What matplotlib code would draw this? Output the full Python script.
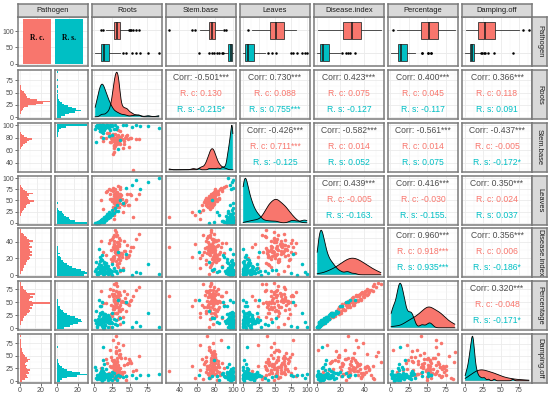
import numpy as np
import matplotlib.pyplot as plt
from matplotlib.ticker import MaxNLocator

plt.rcParams['font.family'] = ['Liberation Sans', 'DejaVu Sans']

RC = '#F8766D'
RS = '#00BFC4'

strip_names = ['Pathogen', 'Roots', 'Stem.base', 'Leaves', 'Disease.index', 'Percentage', 'Damping.off']
group_labels = ['R. c.', 'R. s.']
group_counts = [136, 136]
count_ticks = [0, 50, 100]
var_ticks = [[0, 25, 50, 75], [40, 60, 80, 100], [0, 25, 50, 75, 100],
             [0, 20, 40], [0, 25, 50, 75], [0, 25, 50, 75]]

# ---- observations, R. c. ----
roots_rc = [31.2, 24.5, 35.1, 28.3, 42.0, 30.4, 33.6, 26.1, 38.2, 29.7,
            32.5, 20.3, 34.2, 30.9, 27.4, 47.1, 31.8, 35.6, 25.2, 28.9,
            33.1, 40.3, 29.2, 16.4, 32.0, 36.3, 30.1, 44.2, 27.8, 34.7,
            31.5, 22.6, 35.4, 28.1, 50.2, 33.9, 26.7, 30.6, 38.8, 32.3,
            9.3, 29.5, 35.9, 31.0, 45.3, 27.2, 34.1, 24.0, 32.8, 41.4,
            30.8, 54.1, 28.6, 35.3, 23.4, 33.4, 39.5, 31.6, 27.0, 36.0,
            25.8, 32.1, 43.5, 29.9, 18.2, 34.5, 30.3, 58.2, 26.4, 35.0,
            31.9, 48.4, 28.0, 21.5, 33.3, 46.2, 27.6, 63.0, 12.6, 52.3]
stem_rc = [76.2, 81.5, 72.8, 78.9, 69.4, 77.3, 84.1, 74.6, 79.8, 71.2,
           75.5, 88.3, 73.9, 80.2, 66.1, 77.9, 82.6, 70.3, 76.8, 85.4,
           78.1, 63.5, 74.2, 79.4, 72.1, 90.6, 75.9, 81.9, 68.7, 77.0,
           73.4, 83.2, 76.5, 57.2, 79.1, 74.9, 86.7, 71.8, 78.4, 75.2,
           80.8, 67.3, 77.6, 73.1, 82.1, 76.0, 70.8, 79.6, 92.4, 74.4,
           78.6, 28.5, 75.7, 81.1, 72.4, 77.4, 84.8, 69.9, 76.3, 80.5,
           54.3, 74.0, 79.2, 73.7, 87.5, 76.7, 71.5, 78.0, 82.9, 75.0,
           77.7, 65.2, 80.0, 73.0, 76.1, 83.7, 62.8, 78.3, 74.7, 79.9]
leaves_rc = [58.8, 53.8, 57.7, 44.9, 43.6, 67.5, 55.7, 36.4, 62.2, 45.3,
             40.8, 75.0, 51.4, 67.8, 29.7, 39.4, 69.4, 55.0, 48.7, 74.6,
             58.7, 23.8, 36.8, 69.6, 51.7, 80.4, 48.4, 50.4, 51.6, 36.0,
             59.6, 65.3, 44.3, 18.3, 64.2, 43.9, 78.6, 34.2, 41.1, 65.3,
             51.7, 47.5, 63.9, 43.2, 47.7, 53.5, 48.7, 72.9, 83.1, 40.1,
             56.4, 13.5, 35.1, 65.2, 54.1, 48.6, 53.7, 39.4, 65.0, 76.3,
             24.0, 54.5, 47.3, 35.1, 70.8, 60.6, 37.8, 52.5, 71.9, 53.0,
             43.1, 39.3, 59.5, 54.0, 45.7, 64.1, 8.4, 64.0, 31.6, 61.4]
di_rc = [28.4, 15.2, 36.8, 22.5, 41.3, 31.0, 19.7, 45.6, 26.3, 33.9,
         12.4, 38.5, 24.1, 29.7, 48.2, 21.3, 34.6, 17.8, 43.0, 27.2,
         35.5, 8.6, 30.4, 23.8, 39.9, 26.9, 51.7, 20.6, 32.7, 14.1,
         25.5, 42.4, 18.9, 37.6, 29.1, 10.3, 33.2, 46.9, 22.0, 30.8,
         40.5, 27.8, 5.4, 35.0, 24.7, 31.9, 44.3, 19.1, 38.0, 28.9,
         16.6, 34.1, 53.8, 23.1, 30.1, 39.2, 25.9, 13.3, 36.2, 42.0,
         21.7, 47.5, 29.4, 32.3, 11.5, 37.1, 26.4, 43.8, 18.2, 34.9,
         31.4, 24.4, 40.9, 1.2, 28.1, 36.5, 20.1, 49.6, 27.5, 33.5]
pct_rc = [52.0, 23.6, 69.0, 37.9, 73.0, 45.1, 41.5, 74.7, 50.8, 53.5,
          30.2, 61.7, 35.4, 53.0, 84.7, 46.0, 52.6, 33.6, 66.7, 51.2,
          62.0, 22.3, 48.1, 48.9, 60.8, 44.7, 87.1, 33.9, 63.7, 21.9,
          41.5, 75.7, 40.3, 55.3, 53.1, 17.0, 61.5, 71.7, 37.1, 59.7,
          71.8, 42.1, 8.4, 62.3, 49.3, 53.4, 69.7, 27.6, 69.9, 50.8,
          28.7, 62.9, 85.4, 35.8, 44.7, 67.8, 53.1, 28.6, 57.1, 64.1,
          43.6, 81.6, 57.6, 51.1, 20.8, 56.5, 40.9, 74.9, 37.2, 65.1,
          48.7, 44.8, 66.4, 2.9, 54.6, 65.6, 30.2, 78.9, 49.6, 54.9]
damp_rc = [22.3, 41.5, 8.6, 33.0, 17.2, 55.4, 26.8, 12.1, 45.9, 29.4,
           38.2, 15.5, 62.0, 24.1, 3.7, 35.6, 19.8, 48.3, 27.7, 11.2,
           31.5, 70.4, 20.9, 43.7, 14.6, 26.0, 57.1, 9.3, 36.8, 23.5,
           16.4, 28.9, 51.2, 6.4, 39.7, 21.6, 80.3, 30.6, 13.5, 44.6,
           25.1, 34.3, 18.7, 66.5, 1.5, 42.2, 24.7, 47.8, 10.4, 32.1,
           59.0, 20.2, 37.5, 14.0, 27.1, 74.8, 17.9, 40.3, 23.0, 52.5,
           29.9, 5.2, 46.1, 25.4, 35.0, 16.8, 88.6, 21.1, 38.9, 12.9,
           19.4, 43.0, 27.3, 60.8, 15.1, 33.7, 22.6, 49.5, 7.8, 36.1]

# ---- observations, R. s. ----
roots_rs = [12.2, 5.1, 17.3, 9.6, 24.3, 14.8, 3.0, 20.3, 10.8, 7.3,
            15.6, 8.7, 30.4, 12.6, 6.5, 19.0, 11.3, 41.0, 4.2, 13.7,
            9.9, 22.6, 16.0, 7.7, 12.9, 1.8, 18.6, 10.2, 27.5, 14.0,
            6.8, 13.3, 53.6, 11.5, 8.2, 20.7, 15.2, 5.5, 25.2, 9.0,
            17.7, 12.0, 3.6, 34.0, 10.5, 16.5, 7.0, 21.8, 13.0, 64.0,
            8.4, 19.9, 12.4, 4.7, 14.4, 28.8, 9.3, 6.2, 18.1, 11.8,
            23.4, 7.9, 16.9, 91.0, 11.0, 5.9, 21.1, 2.5, 19.4, 12.8,
            36.3, 13.9, 8.1, 59.0, 10.1, 24.8, 1.1, 76.0, 32.1, 44.0]
stem_rs = [98.2, 96.5, 99.6, 93.8, 100.0, 97.1, 99.9, 95.4, 98.8, 91.2,
           97.9, 99.3, 94.6, 100.0, 96.0, 98.5, 88.7, 99.8, 97.4, 95.1,
           99.1, 92.5, 98.0, 100.0, 96.8, 73.4, 99.5, 97.6, 94.2, 98.9,
           100.0, 95.8, 97.3, 99.7, 90.1, 98.4, 96.3, 99.2, 84.3, 97.0,
           99.4, 94.9, 98.6, 62.1, 99.9, 96.6, 97.8, 100.0, 93.1, 98.1,
           95.6, 99.0, 79.2, 98.3, 97.5, 100.0, 94.0, 99.6, 96.9, 87.5,
           98.7, 96.2, 99.8, 95.0, 100.0, 97.2, 82.1, 98.0, 99.3, 94.5,
           76.4, 99.5, 97.7, 100.0, 95.3, 98.9, 93.5, 99.1, 96.4, 100.0]
leaves_rs = [7.5, 1.2, 14.6, 2.8, 22.4, 6.9, 0.5, 13.8, 9.2, 1.9,
             12.3, 3.5, 27.1, 5.2, 0.8, 17.5, 4.1, 45.3, 0.6, 10.4,
             4.7, 15.9, 8.3, 2.2, 11.6, 0.4, 10.1, 1.5, 21.8, 13.1,
             1.0, 3.9, 84.0, 7.8, 2.6, 19.2, 5.8, 0.7, 16.4, 6.1,
             9.7, 2.1, 0.3, 25.5, 6.6, 15.0, 1.4, 12.9, 8.8, 74.5,
             3.3, 11.2, 1.8, 0.9, 9.5, 33.8, 5.5, 0.2, 20.6, 4.4,
             18.3, 1.7, 7.1, 99.5, 3.0, 0.5, 23.7, 0.1, 14.2, 6.3,
             52.0, 2.4, 1.1, 96.0, 5.0, 28.5, 0.2, 92.0, 38.7, 78.0]
di_rs = [4.2, 9.8, 2.1, 6.5, 13.6, 3.4, 1.5, 7.9, 18.3, 5.1,
         2.8, 11.4, 5.6, 0.9, 8.3, 3.9, 24.5, 6.2, 2.4, 14.7,
         7.1, 3.1, 10.5, 4.6, 1.2, 16.2, 5.9, 2.6, 9.1, 3.7,
         12.8, 6.8, 0.5, 4.9, 21.4, 3.2, 8.7, 2.0, 5.3, 11.9,
         3.5, 7.5, 1.8, 27.6, 4.4, 10.1, 2.9, 6.0, 15.3, 3.0,
         5.7, 1.0, 8.0, 3.8, 12.2, 4.7, 19.6, 2.3, 6.9, 9.5,
         2.7, 4.0, 14.0, 1.6, 5.4, 31.8, 3.6, 7.3, 10.8, 4.5,
         6.4, 2.2, 17.1, 3.3, 8.9, 0.7, 5.0, 13.1, 2.5, 25.9]
pct_rs = [12.9, 17.2, 11.5, 13.7, 29.4, 5.6, 4.5, 22.0, 31.2, 13.4,
          5.6, 26.8, 15.2, 1.5, 15.7, 13.4, 51.4, 11.2, 13.0, 27.3,
          18.7, 10.1, 17.3, 16.6, 1.0, 32.7, 17.7, 5.3, 17.0, 16.1,
          23.1, 11.2, 1.8, 14.1, 43.3, 10.3, 21.4, 9.3, 9.7, 28.6,
          13.8, 18.4, 2.0, 54.5, 10.3, 17.7, 11.8, 17.9, 27.2, 5.0,
          11.4, 1.7, 20.2, 12.3, 28.1, 8.8, 42.3, 8.8, 14.4, 21.7,
          11.5, 8.6, 24.1, 2.6, 16.9, 55.5, 11.9, 11.0, 24.8, 12.4,
          19.6, 4.6, 30.2, 12.4, 14.7, 3.2, 16.3, 28.6, 6.1, 50.7]
damp_rs = [10.2, 6.1, 13.5, 8.4, 17.9, 11.3, 3.2, 9.0, 14.8, 7.5,
           12.1, 5.3, 9.7, 20.6, 11.0, 1.4, 15.9, 8.8, 12.7, 4.6,
           10.9, 7.1, 24.3, 9.4, 13.0, 6.6, 11.6, 0.5, 16.8, 10.5,
           8.1, 32.7, 12.4, 5.9, 10.0, 14.2, 7.8, 11.9, 2.7, 19.2,
           9.2, 13.8, 6.3, 11.1, 26.4, 8.6, 10.7, 4.0, 15.4, 12.3,
           7.3, 10.4, 40.7, 9.9, 12.9, 5.6, 17.3, 11.5, 8.9, 13.3,
           11.8, 3.8, 10.1, 14.5, 7.0, 12.0, 9.5, 22.1, 6.8, 66.6,
           10.6, 8.2, 15.1, 5.0, 11.4, 9.1, 28.0, 12.6, 2.0, 10.3]

# ---- histogram counts (30 bins over each variable's range) ----
hist_roots_rc = [0, 0, 1, 1, 2, 3, 4, 8, 15, 22, 28, 16, 10, 7, 6, 5, 4, 2, 1, 1, 1, 0, 0, 0, 0, 0, 0, 0, 0, 0]
hist_roots_rs = [4, 8, 12, 17, 23, 18, 14, 11, 7, 5, 3, 2, 1, 1, 1, 0, 1, 1, 0, 1, 1, 0, 0, 0, 1, 0, 0, 0, 0, 1]
hist_stem_rc = [1, 0, 0, 0, 0, 0, 0, 0, 0, 0, 1, 1, 1, 2, 3, 5, 8, 12, 17, 22, 28, 18, 10, 5, 3, 1, 1, 0, 0, 0]
hist_stem_rs = [0, 0, 0, 0, 0, 0, 0, 0, 0, 0, 0, 0, 0, 1, 1, 1, 0, 1, 2, 1, 2, 2, 3, 3, 4, 5, 6, 10, 22, 70]
hist_leaves_rc = [0, 0, 1, 1, 1, 2, 2, 3, 4, 5, 7, 7, 9, 12, 17, 11, 10, 9, 11, 16, 9, 6, 4, 3, 2, 0, 0, 0, 0, 0]
hist_leaves_rs = [35, 22, 16, 14, 11, 9, 8, 6, 3, 2, 1, 1, 1, 2, 1, 1, 0, 0, 0, 0, 0, 1, 1, 1, 0, 0, 1, 1, 1, 1]
hist_di_rc = [0, 1, 1, 2, 2, 3, 3, 4, 4, 5, 6, 7, 6, 8, 7, 8, 7, 6, 8, 6, 7, 6, 9, 6, 5, 4, 3, 2, 1, 1]
hist_di_rs = [18, 20, 19, 16, 13, 10, 8, 7, 5, 4, 3, 3, 2, 1, 2, 1, 1, 1, 1, 0, 0, 0, 0, 0, 0, 0, 0, 0, 0, 0]
hist_pct_rc = [0, 0, 1, 1, 1, 2, 2, 3, 4, 5, 6, 7, 6, 8, 7, 9, 20, 8, 6, 7, 9, 7, 10, 5, 4, 3, 2, 2, 1, 1]
hist_pct_rs = [5, 9, 11, 14, 17, 16, 14, 12, 9, 7, 5, 4, 3, 2, 2, 1, 1, 1, 1, 0, 0, 0, 0, 0, 0, 0, 0, 0, 0, 0]
hist_damp_rc = [2, 5, 8, 7, 6, 9, 8, 10, 7, 6, 7, 5, 6, 8, 10, 7, 5, 4, 3, 2, 2, 2, 1, 1, 1, 1, 1, 1, 0, 1]
hist_damp_rs = [3, 5, 10, 19, 28, 22, 14, 10, 7, 5, 3, 2, 1, 1, 1, 0, 0, 0, 0, 0, 0, 0, 1, 0, 0, 0, 0, 0, 0, 0]

# ---- correlation labels, upper triangle in row order ----
corr_all = ['-0.501***', '0.730***', '0.423***', '0.400***', '0.366***',
            '-0.426***', '-0.582***', '-0.561***', '-0.437***',
            '0.439***', '0.416***', '0.350***',
            '0.960***', '0.356***',
            '0.320***']
corr_rc = ['0.130', '0.088', '0.075', '0.045', '0.118',
           '0.711***', '0.014', '0.014', '-0.005',
           '-0.005', '-0.030', '0.024',
           '0.918***', '0.006',
           '-0.048']
corr_rs = ['-0.215*', '0.755***', '-0.127', '-0.117', '0.091',
           '-0.125', '0.052', '0.075', '-0.172*',
           '-0.163.', '-0.155.', '0.037',
           '0.935***', '-0.186*',
           '-0.171*']

data_rc = [roots_rc, stem_rc, leaves_rc, di_rc, pct_rc, damp_rc]
data_rs = [roots_rs, stem_rs, leaves_rs, di_rs, pct_rs, damp_rs]
hist_rc = [hist_roots_rc, hist_stem_rc, hist_leaves_rc, hist_di_rc, hist_pct_rc, hist_damp_rc]
hist_rs = [hist_roots_rs, hist_stem_rs, hist_leaves_rs, hist_di_rs, hist_pct_rs, hist_damp_rs]

# ---- layout (pixels) ----
W, H = 550, 400
col_left = [18, 92, 166, 240, 314, 388, 462]
row_top = [17, 70, 123, 176, 228, 281, 334]
PW, PH = 70, 49
BORDER = '#7A7A7A'
TICK_KW = dict(labelsize=5, labelcolor='#4D4D4D', color='#333333', length=2, width=0.5, pad=1)

fig = plt.figure(figsize=(5.5, 4), dpi=100)


def panel(x, y, w, h):
    return fig.add_axes([x / W, 1 - (y + h) / H, w / W, h / H])


def minor_of(ticks, lo, hi):
    if len(ticks) < 2:
        return []
    step = ticks[1] - ticks[0]
    m = np.arange(ticks[0] - step / 2, hi, step)
    return [v for v in m if lo < v < hi]


def dress(ax, xlim, ylim, xt, yt, xminor=True, yminor=True):
    ax.set_xlim(xlim)
    ax.set_ylim(ylim)
    ax.set_xticks(xt)
    ax.set_yticks(yt)
    ax.set_xticks(minor_of(list(xt), *sorted(xlim)) if xminor else [], minor=True)
    ax.set_yticks(minor_of(list(yt), *sorted(ylim)) if yminor else [], minor=True)
    ax.grid(True, which='major', color='#EBEBEB', lw=0.6)
    ax.grid(True, which='minor', color='#F5F5F5', lw=0.35)
    ax.set_axisbelow(True)
    for s in ax.spines.values():
        s.set_color(BORDER)
        s.set_linewidth(1.1)
    ax.tick_params(which='both', length=0, labelleft=False, labelbottom=False)


def var_limits(i):
    allv = np.concatenate([data_rc[i], data_rs[i]])
    lo, hi = allv.min(), allv.max()
    pad = 0.05 * (hi - lo)
    return lo, hi, (lo - pad, hi + pad)


def kde(vals, grid):
    v = np.asarray(vals)
    n = len(v)
    q75, q25 = np.percentile(v, [75, 25])
    bw = 0.9 * min(v.std(ddof=1), (q75 - q25) / 1.34) * n ** -0.2
    z = (grid[:, None] - v[None, :]) / bw
    return np.exp(-0.5 * z ** 2).sum(axis=1) / (n * bw * np.sqrt(2 * np.pi))


def count_ticks_for(xlim):
    loc = MaxNLocator(nbins=3, steps=[1, 2, 2.5, 5, 10], integer=True)
    return [t for t in loc.tick_values(*xlim) if xlim[0] <= t <= xlim[1]]


pairs = [(i, j) for i in range(6) for j in range(i + 1, 6)]

for r in range(7):
    for c in range(7):
        x0, y0 = col_left[c], row_top[r]
        if r == 0 and c == 0:
            ax = panel(x0, y0, PW, PH)
            top = max(group_counts) * 1.05
            dress(ax, (0.4, 2.6), (-0.05 * max(group_counts), top), [1, 2], count_ticks, xminor=False)
            ax.bar([1, 2], group_counts, width=0.9, color=[RC, RS])
            for k, lab in enumerate(group_labels):
                ax.text(k + 1, group_counts[k] * 0.58, lab, ha='center', va='center',
                        fontsize=5.5, fontweight='bold', family=['Liberation Serif', 'DejaVu Serif'])
            ax.tick_params(axis='y', which='major', labelleft=True, **TICK_KW)
        elif r == 0:
            i = c - 1
            lo, hi, xl = var_limits(i)
            ax = panel(x0, y0, PW, PH)
            dress(ax, xl, (0.4, 2.6), var_ticks[i], [1, 2], yminor=False)
            bp = ax.boxplot([data_rs[i], data_rc[i]], positions=[1, 2], orientation='horizontal',
                            widths=0.75, patch_artist=True, showcaps=False,
                            boxprops=dict(edgecolor='#333333', linewidth=0.6),
                            whiskerprops=dict(color='#333333', linewidth=0.6),
                            medianprops=dict(color='#1A1A1A', linewidth=1.1),
                            flierprops=dict(marker='o', markersize=1.8, markerfacecolor='black',
                                            markeredgecolor='none'))
            for patch, col in zip(bp['boxes'], [RS, RC]):
                patch.set_facecolor(col)
            ax.set_xlim(xl)
        elif c == 0:
            i = r - 1
            lo, hi, yl = var_limits(i)
            centers = np.linspace(lo, hi, 30)
            bw = (hi - lo) / 29
            mx = max(max(hist_rc[i]), max(hist_rs[i]))
            xl = (-0.05 * mx, 1.05 * mx)
            ct = count_ticks_for(xl)
            for k, (counts, col) in enumerate([(hist_rc[i], RC), (hist_rs[i], RS)]):
                ax = panel(18 + k * 37, y0, 33, PH)
                dress(ax, xl, yl, ct, var_ticks[i])
                ax.barh(centers, counts, height=bw, color=col, linewidth=0)
                if k == 0:
                    ax.tick_params(axis='y', which='major', labelleft=True, **TICK_KW)
                if r == 6:
                    ax.tick_params(axis='x', which='major', labelbottom=True, **TICK_KW)
        elif r == c:
            i = r - 1
            lo, hi, xl = var_limits(i)
            grid = np.linspace(lo, hi, 400)
            d_rc = kde(data_rc[i], grid)
            d_rs = kde(data_rs[i], grid)
            mx = max(d_rc.max(), d_rs.max())
            yl = (-0.05 * mx, 1.05 * mx)
            ax = panel(x0, y0, PW, PH)
            yt = MaxNLocator(nbins=4).tick_values(0, mx)
            dress(ax, xl, yl, var_ticks[i], [t for t in yt if t <= yl[1]])
            for d, col in [(d_rc, RC), (d_rs, RS)]:
                ax.fill_between(grid, 0, d, facecolor=col, linewidth=0)
                ax.plot(grid, d, color='black', lw=0.6)
            if r == 6:
                ax.tick_params(axis='x', which='major', labelbottom=True, **TICK_KW)
        elif r > c:
            xi, yi = c - 1, r - 1
            _, _, xl = var_limits(xi)
            _, _, yl = var_limits(yi)
            ax = panel(x0, y0, PW, PH)
            dress(ax, xl, yl, var_ticks[xi], var_ticks[yi])
            ax.scatter(data_rc[xi], data_rc[yi], s=6.5, color=RC, linewidths=0)
            ax.scatter(data_rs[xi], data_rs[yi], s=6.5, color=RS, linewidths=0)
            if r == 6:
                ax.tick_params(axis='x', which='major', labelbottom=True, **TICK_KW)
        else:
            yi, xi = r - 1, c - 1
            _, _, xl = var_limits(xi)
            _, _, yl = var_limits(yi)
            ax = panel(x0, y0, PW, PH)
            dress(ax, xl, yl, var_ticks[xi], var_ticks[yi])
            k = pairs.index((yi, xi))
            ax.text(0.5, 0.85, 'Corr: ' + corr_all[k], transform=ax.transAxes,
                    ha='center', va='center', fontsize=6.2, color='#4D4D4D')
            ax.text(0.5, 0.52, 'R. c: ' + corr_rc[k], transform=ax.transAxes,
                    ha='center', va='center', fontsize=6.2, color=RC)
            ax.text(0.5, 0.20, 'R. s: ' + corr_rs[k], transform=ax.transAxes,
                    ha='center', va='center', fontsize=6.2, color=RS)

# strips
for c in range(7):
    s = panel(col_left[c], 4, PW, 13)
    s.set_facecolor('#D9D9D9')
    s.set_xticks([])
    s.set_yticks([])
    for sp in s.spines.values():
        sp.set_color(BORDER)
        sp.set_linewidth(1.1)
    s.text(0.5, 0.5, strip_names[c], ha='center', va='center', fontsize=5.4, color='#1A1A1A')
for r in range(7):
    s = panel(532, row_top[r], 15, PH)
    s.set_facecolor('#D9D9D9')
    s.set_xticks([])
    s.set_yticks([])
    for sp in s.spines.values():
        sp.set_color(BORDER)
        sp.set_linewidth(1.1)
    s.text(0.5, 0.5, strip_names[r], ha='center', va='center', rotation=-90,
           fontsize=5.4, color='#1A1A1A')

fig.savefig('out.png', dpi=100, facecolor='white')
